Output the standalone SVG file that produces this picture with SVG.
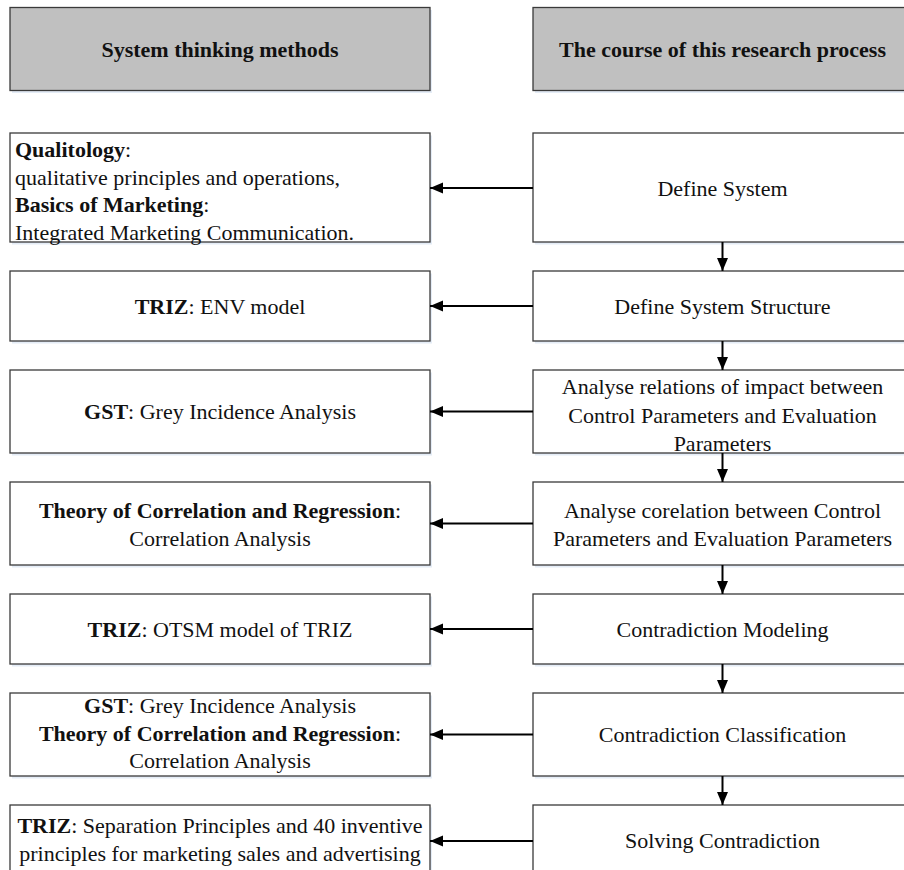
<svg xmlns="http://www.w3.org/2000/svg" width="904" height="870" viewBox="0 0 904 870">
<defs>
<marker id="ah" markerUnits="userSpaceOnUse" markerWidth="14" markerHeight="12" refX="13" refY="5.5" orient="auto">
<path d="M0,0 L13,5.5 L0,11 Z" fill="#000"/>
</marker>
</defs>
<style>
.box{fill:#ffffff;stroke:#3a3a3a;stroke-width:1.3}
.hdr{fill:#c0c0c0;stroke:#3a3a3a;stroke-width:1.3}
.sh{fill:#e4ecf6}
text{font-family:"Liberation Serif","Times New Roman",serif;font-size:22px;fill:#111}
.c{text-anchor:middle}
.b{font-weight:bold}
.conn line{stroke:#000;stroke-width:2;marker-end:url(#ah)}
</style>
<rect width="904" height="870" fill="#fff"/>

<g id="hdr-left">
<rect class="sh" x="12" y="10" width="420" height="83"/>
<rect class="hdr" x="10" y="7.5" width="420" height="83"/>
<text class="c b" x="220" y="56.5">System thinking methods</text>
</g>
<g id="hdr-right">
<rect class="sh" x="535" y="10" width="380" height="83"/>
<rect class="hdr" x="533" y="7.5" width="380" height="83"/>
<text class="c b" x="722.5" y="56.5">The course of this research process</text>
</g>

<g id="m1">
<rect class="sh" x="12" y="135.5" width="420" height="109"/>
<rect class="box" x="10" y="133" width="420" height="109"/>
<text x="15" y="157"><tspan class="b">Qualitology</tspan>:</text>
<text x="15" y="184.5">qualitative principles and operations,</text>
<text x="15" y="212"><tspan class="b">Basics of Marketing</tspan>:</text>
<text x="15" y="239.5">Integrated Marketing Communication.</text>
</g>
<g id="p1">
<rect class="sh" x="535" y="135.5" width="380" height="109"/>
<rect class="box" x="533" y="133" width="380" height="109"/>
<text class="c" x="722.5" y="195.5">Define System</text>
</g>

<g id="m2">
<rect class="sh" x="12" y="273.5" width="420" height="70"/>
<rect class="box" x="10" y="271" width="420" height="70"/>
<text class="c" x="220" y="313.5"><tspan class="b">TRIZ</tspan>: ENV model</text>
</g>
<g id="p2">
<rect class="sh" x="535" y="273.5" width="380" height="70"/>
<rect class="box" x="533" y="271" width="380" height="70"/>
<text class="c" x="722.5" y="313.5">Define System Structure</text>
</g>

<g id="m3">
<rect class="sh" x="12" y="372.5" width="420" height="83"/>
<rect class="box" x="10" y="370" width="420" height="83"/>
<text class="c" x="220" y="419"><tspan class="b">GST</tspan>: Grey Incidence Analysis</text>
</g>
<g id="p3">
<rect class="sh" x="535" y="372.5" width="380" height="83"/>
<rect class="box" x="533" y="370" width="380" height="83"/>
<text class="c" x="722.5" y="393.5">Analyse relations of impact between</text>
<text class="c" x="722.5" y="422.5">Control Parameters and Evaluation</text>
<text class="c" x="722.5" y="451">Parameters</text>
</g>

<g id="m4">
<rect class="sh" x="12" y="484.5" width="420" height="83"/>
<rect class="box" x="10" y="482" width="420" height="83"/>
<text class="c" x="220" y="517.5"><tspan class="b">Theory of Correlation and Regression</tspan>:</text>
<text class="c" x="220" y="546">Correlation Analysis</text>
</g>
<g id="p4">
<rect class="sh" x="535" y="484.5" width="380" height="83"/>
<rect class="box" x="533" y="482" width="380" height="83"/>
<text class="c" x="722.5" y="517.5">Analyse corelation between Control</text>
<text class="c" x="722.5" y="546">Parameters and Evaluation Parameters</text>
</g>

<g id="m5">
<rect class="sh" x="12" y="596.5" width="420" height="70"/>
<rect class="box" x="10" y="594" width="420" height="70"/>
<text class="c" x="220" y="636.5"><tspan class="b">TRIZ</tspan>: OTSM model of TRIZ</text>
</g>
<g id="p5">
<rect class="sh" x="535" y="596.5" width="380" height="70"/>
<rect class="box" x="533" y="594" width="380" height="70"/>
<text class="c" x="722.5" y="636.5">Contradiction Modeling</text>
</g>

<g id="m6">
<rect class="sh" x="12" y="695.5" width="420" height="83"/>
<rect class="box" x="10" y="693" width="420" height="83"/>
<text class="c" x="220" y="713"><tspan class="b">GST</tspan>: Grey Incidence Analysis</text>
<text class="c" x="220" y="740.5"><tspan class="b">Theory of Correlation and Regression</tspan>:</text>
<text class="c" x="220" y="768">Correlation Analysis</text>
</g>
<g id="p6">
<rect class="sh" x="535" y="695.5" width="380" height="83"/>
<rect class="box" x="533" y="693" width="380" height="83"/>
<text class="c" x="722.5" y="742">Contradiction Classification</text>
</g>

<g id="m7">
<rect class="sh" x="12" y="807.5" width="420" height="72"/>
<rect class="box" x="10" y="805" width="420" height="72"/>
<text class="c" x="220" y="832.5"><tspan class="b">TRIZ</tspan>: Separation Principles and 40 inventive</text>
<text class="c" x="220" y="861">principles for marketing sales and advertising</text>
</g>
<g id="p7">
<rect class="sh" x="535" y="807.5" width="380" height="72"/>
<rect class="box" x="533" y="805" width="380" height="72"/>
<text class="c" x="722.5" y="848">Solving Contradiction</text>
</g>

<g id="connectors" class="conn">
<line x1="533" y1="188" x2="430" y2="188"/>
<line x1="533" y1="306" x2="430" y2="306"/>
<line x1="533" y1="411.5" x2="430" y2="411.5"/>
<line x1="533" y1="523.5" x2="430" y2="523.5"/>
<line x1="533" y1="629" x2="430" y2="629"/>
<line x1="533" y1="734.5" x2="430" y2="734.5"/>
<line x1="533" y1="841" x2="430" y2="841"/>
<line x1="722.5" y1="242" x2="722.5" y2="271"/>
<line x1="722.5" y1="341" x2="722.5" y2="370"/>
<line x1="722.5" y1="453" x2="722.5" y2="482"/>
<line x1="722.5" y1="565" x2="722.5" y2="594"/>
<line x1="722.5" y1="664" x2="722.5" y2="693"/>
<line x1="722.5" y1="776" x2="722.5" y2="805"/>
</g>
</svg>
